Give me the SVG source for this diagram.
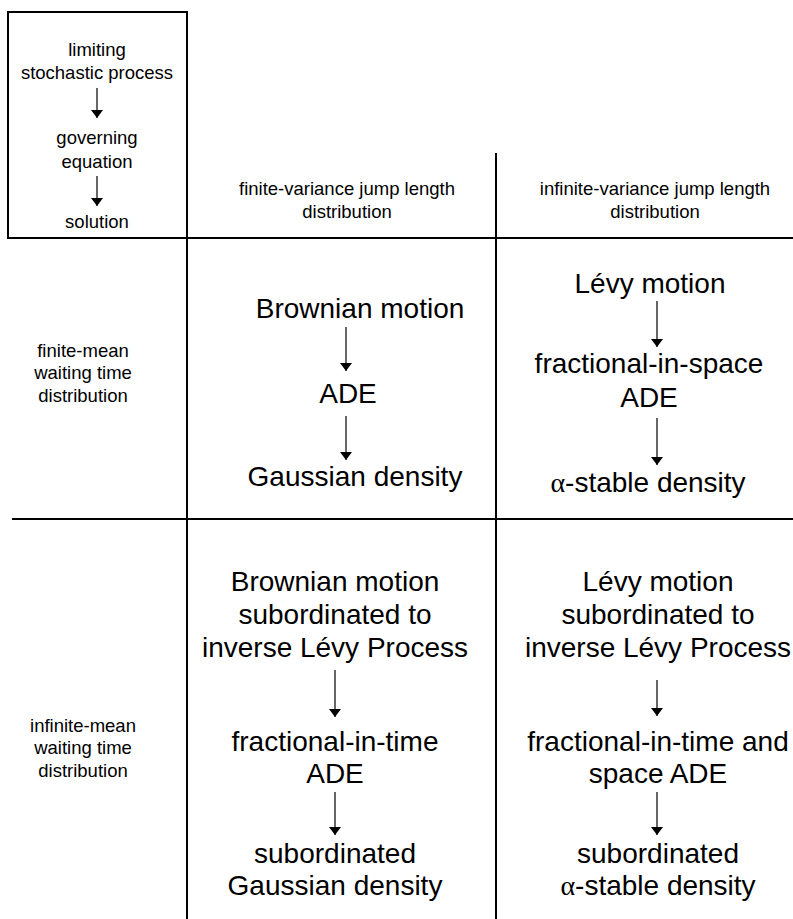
<svg xmlns="http://www.w3.org/2000/svg" width="793" height="919" viewBox="0 0 793 919">
<style>
.t{font-family:"Liberation Sans",Arial,sans-serif;fill:#000;text-anchor:middle}
.s{font-size:18.5px}
.b{font-size:28px}
.g{font-family:"Liberation Serif","Times New Roman",serif}
.ln{stroke:#000;stroke-width:2;fill:none}
.ar{stroke:#000;stroke-width:1.2;fill:none}
</style>
<defs>
<marker id="ah" viewBox="0 0 8 12" refX="8" refY="6" markerWidth="8" markerHeight="12" markerUnits="userSpaceOnUse" orient="auto">
<path d="M0,0 L8,6 L0,12 Z" fill="#000" transform="rotate(0)"/>
</marker>
</defs>
<rect x="0" y="0" width="793" height="919" fill="#fff"/>
<g id="grid">
<rect class="ln" x="8" y="12" width="179" height="226"/>
<line class="ln" x1="28" y1="238" x2="793" y2="238"/>
<line class="ln" x1="187" y1="12" x2="187" y2="919"/>
<line class="ln" x1="496" y1="153" x2="496" y2="919"/>
<line class="ln" x1="12" y1="519" x2="793" y2="519"/>
</g>
<g id="legend">
<text class="t s" x="97" y="56">limiting</text>
<text class="t s" x="97" y="79">stochastic process</text>
<text class="t s" x="97" y="144">governing</text>
<text class="t s" x="97" y="168">equation</text>
<text class="t s" x="97" y="228">solution</text>
</g>
<g id="col-header-finite">
<text class="t s" x="347" y="195">finite-variance jump length</text>
<text class="t s" x="347" y="218">distribution</text>
</g>
<g id="col-header-infinite">
<text class="t s" x="655" y="195">infinite-variance jump length</text>
<text class="t s" x="655" y="218">distribution</text>
</g>
<g id="row-header-finite">
<text class="t s" x="83" y="357">finite-mean</text>
<text class="t s" x="83" y="379">waiting time</text>
<text class="t s" x="83" y="402">distribution</text>
</g>
<g id="row-header-infinite">
<text class="t s" x="83" y="732">infinite-mean</text>
<text class="t s" x="83" y="754">waiting time</text>
<text class="t s" x="83" y="777">distribution</text>
</g>
<g id="brownian">
<text class="t b" x="360" y="318">Brownian motion</text>
</g>
<g id="ade">
<text class="t b" x="348" y="403">ADE</text>
</g>
<g id="gaussian">
<text class="t b" x="355" y="486">Gaussian density</text>
</g>
<g id="levy">
<text class="t b" x="650" y="293">Lévy motion</text>
</g>
<g id="frac-space">
<text class="t b" x="649" y="373">fractional-in-space</text>
<text class="t b" x="649" y="407">ADE</text>
</g>
<g id="alpha-stable">
<text class="t b" x="648" y="492"><tspan class="g">α</tspan>-stable density</text>
</g>
<g id="sub-brownian">
<text class="t b" x="335" y="591">Brownian motion</text>
<text class="t b" x="335" y="624">subordinated to</text>
<text class="t b" x="335" y="657">inverse Lévy Process</text>
</g>
<g id="frac-time">
<text class="t b" x="335" y="751">fractional-in-time</text>
<text class="t b" x="335" y="783">ADE</text>
</g>
<g id="sub-gaussian">
<text class="t b" x="335" y="863">subordinated</text>
<text class="t b" x="335" y="895">Gaussian density</text>
</g>
<g id="sub-levy">
<text class="t b" x="658" y="591">Lévy motion</text>
<text class="t b" x="658" y="624">subordinated to</text>
<text class="t b" x="658" y="657">inverse Lévy Process</text>
</g>
<g id="frac-time-space">
<text class="t b" x="658" y="751">fractional-in-time and</text>
<text class="t b" x="658" y="783">space ADE</text>
</g>
<g id="sub-alpha">
<text class="t b" x="658" y="863">subordinated</text>
<text class="t b" x="658" y="895"><tspan class="g">α</tspan>-stable density</text>
</g>
<g id="connectors">
<line class="ar" x1="97" y1="88" x2="97" y2="118" marker-end="url(#ah)"/>
<line class="ar" x1="97" y1="176" x2="97" y2="206" marker-end="url(#ah)"/>
<line class="ar" x1="346" y1="327" x2="346" y2="371" marker-end="url(#ah)"/>
<line class="ar" x1="346" y1="416" x2="346" y2="460" marker-end="url(#ah)"/>
<line class="ar" x1="657" y1="301" x2="657" y2="347" marker-end="url(#ah)"/>
<line class="ar" x1="657" y1="418" x2="657" y2="465" marker-end="url(#ah)"/>
<line class="ar" x1="335" y1="670" x2="335" y2="717" marker-end="url(#ah)"/>
<line class="ar" x1="335" y1="792" x2="335" y2="835" marker-end="url(#ah)"/>
<line class="ar" x1="657" y1="680" x2="657" y2="716" marker-end="url(#ah)"/>
<line class="ar" x1="657" y1="792" x2="657" y2="835" marker-end="url(#ah)"/>
</g>
</svg>
